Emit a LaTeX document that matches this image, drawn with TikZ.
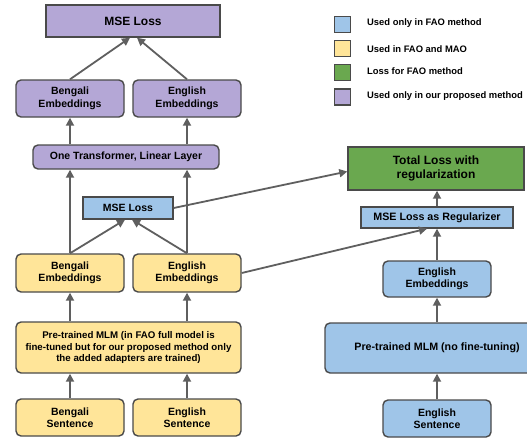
\documentclass[tikz,border=0pt]{standalone}
\usepackage{fontspec}
\setmainfont{Liberation Sans}
\usetikzlibrary{arrows.meta}
\definecolor{purp}{HTML}{B4A7D6}
\definecolor{blu}{HTML}{9FC5E8}
\definecolor{yel}{HTML}{FFE599}
\definecolor{grn}{HTML}{6AA84F}
\definecolor{edge}{HTML}{4A4A4A}
\definecolor{arrc}{HTML}{5F5F5F}
\begin{document}
\begin{tikzpicture}[x=1pt,y=-1pt,
  box/.style={draw=edge,line width=1.4pt,align=center,font=\bfseries\fontsize{10.5}{12.5}\selectfont,inner sep=0pt,anchor=center},
  rbox/.style={box,rounded corners=5pt},
  arr/.style={draw=arrc,line width=1.8pt,-{Triangle[width=8pt,length=8pt]}},
  leg/.style={draw=edge,line width=1.4pt,minimum width=16pt,minimum height=16pt,inner sep=0pt},
  legt/.style={anchor=west,font=\bfseries\fontsize{9.4}{11}\selectfont,inner sep=0pt}]
\useasboundingbox (0,0) rectangle (527,439);
\clip (0,0) rectangle (527,439);
% left column, purple
\node[box,fill=purp,minimum width=174pt,minimum height=32pt,font=\bfseries\fontsize{12}{14}\selectfont] (mseTop) at (133,21) {MSE Loss};
\node[rbox,fill=purp,minimum width=108pt,minimum height=37pt] (benP) at (70,98.5) {Bengali\\Embeddings};
\node[rbox,fill=purp,minimum width=108pt,minimum height=37pt] (engP) at (187,98.5) {English\\Embeddings};
\node[rbox,fill=purp,minimum width=186pt,minimum height=24pt] (trans) at (126,157) {One Transformer, Linear Layer};
% middle
\node[box,fill=blu,minimum width=90pt,minimum height=22pt] (mseMid) at (128,208) {MSE Loss};
\node[rbox,fill=yel,minimum width=108pt,minimum height=38pt] (benY) at (70,273) {Bengali\\Embeddings};
\node[rbox,fill=yel,minimum width=108pt,minimum height=38pt] (engY) at (187,273) {English\\Embeddings};
\node[rbox,fill=yel,minimum width=225pt,minimum height=51pt,font=\bfseries\fontsize{9.7}{11.7}\selectfont] (mlmY) at (128.5,347.5) {Pre-trained MLM (in FAO full model is\\fine-tuned but for our proposed method only\\the added adapters are trained)};
\node[rbox,fill=yel,minimum width=108pt,minimum height=37pt] (benS) at (70,417.5) {Bengali\\Sentence};
\node[rbox,fill=yel,minimum width=108pt,minimum height=37pt] (engS) at (187,417.5) {English\\Sentence};
% right column
\node[box,fill=grn,minimum width=176pt,minimum height=43pt,font=\bfseries\fontsize{12}{14}\selectfont] (total) at (436,168.5) {Total Loss with\\regularization};
\node[box,fill=blu,minimum width=152pt,minimum height=21pt,font=\bfseries\fontsize{10.7}{12}\selectfont] (reg) at (437,217.5) {MSE Loss as Regularizer};
\node[rbox,fill=blu,minimum width=108pt,minimum height=36pt] (engB) at (437,279) {English\\Embeddings};
\node[rbox,fill=blu,minimum width=224pt,minimum height=50pt,font=\bfseries\fontsize{10.7}{12}\selectfont] (mlmB) at (437,348) {Pre-trained MLM (no fine-tuning)};
\node[rbox,fill=blu,minimum width=108pt,minimum height=37pt] (engSB) at (437,418.5) {English\\Sentence};
% legend
\node[leg,fill=blu] (l1) at (342.5,24.5) {};
\node[leg,fill=yel] (l2) at (342.5,48.5) {};
\node[leg,fill=grn] (l3) at (342.5,72.5) {};
\node[leg,fill=purp] (l4) at (342.5,97) {};
\node[legt] (t1) at (367,23) {Used only in FAO method};
\node[legt] (t2) at (367,49) {Used in FAO and MAO};
\node[legt] (t3) at (367,71) {Loss for FAO method};
\node[legt] (t4) at (367,96) {Used only in our proposed method};
% arrows left
\draw[arr] (benS.north) -- (benS.north |- mlmY.south);
\draw[arr] (engS.north) -- (engS.north |- mlmY.south);
\draw[arr] (benY.south |- mlmY.north) -- (benY.south);
\draw[arr] (engY.south |- mlmY.north) -- (engY.south);
\draw[arr] (benY.north) -- ([xshift=-3pt]mseMid.south);
\draw[arr] (engY.north) -- ([xshift=4pt]mseMid.south);
\draw[arr] (benY.north) -- (benY.north |- trans.south);
\draw[arr] (engY.north) -- (engY.north |- trans.south);
\draw[arr] (benP.south |- trans.north) -- (benP.south);
\draw[arr] (engP.south |- trans.north) -- (engP.south);
\draw[arr] (benP.north) -- ([xshift=-3pt]mseTop.south);
\draw[arr] (engP.north) -- ([xshift=4pt]mseTop.south);
\draw[arr] (mseMid.east) -- ([yshift=-3pt]total.west);
\draw[arr] (engY.east) -- ([xshift=-10pt]reg.south);
% arrows right
\draw[arr] (engSB.north) -- (engSB.north |- mlmB.south);
\draw[arr] (engB.south |- mlmB.north) -- (engB.south);
\draw[arr] (engB.north) -- (engB.north |- reg.south);
\draw[arr] (reg.north) -- (reg.north |- total.south);
\end{tikzpicture}
\end{document}
